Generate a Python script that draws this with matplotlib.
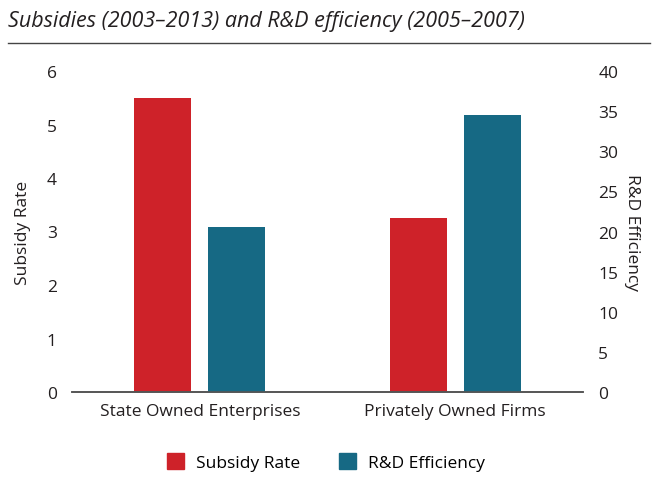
import numpy as np
import matplotlib.pyplot as plt
from matplotlib.patches import Patch
from matplotlib.lines import Line2D

plt.rcParams['font.family'] = ['Open Sans', 'DejaVu Sans']

categories = ["State Owned Enterprises", "Privately Owned Firms"]
subsidy_rate = [5.5, 3.25]
rd_efficiency = [20.6, 34.5]

red = "#CE2229"
teal = "#166984"
text_col = "#231F20"

fig = plt.figure(figsize=(6.6, 4.85), dpi=100)
ax = fig.add_axes([72 / 660, 1 - 393 / 485, 511 / 660, 321 / 485])
ax2 = ax.twinx()

x = np.arange(len(categories))
w = 0.223
off = 0.144
ax.bar(x - off, subsidy_rate, w, color=red, zorder=2)
ax2.bar(x + off, rd_efficiency, w, color=teal, zorder=2)

ax.set_xlim(-0.5, 1.5)
ax.set_ylim(0, 6)
ax2.set_ylim(0, 40)
ax.set_yticks(range(0, 7))
ax2.set_yticks(range(0, 41, 5))
ax.set_xticks(x)
ax.set_xticklabels(categories, fontsize=11.8, color=text_col)

for a in (ax, ax2):
    for s in ("top", "left", "right"):
        a.spines[s].set_visible(False)
    a.spines["bottom"].set_color("#555555")
    a.spines["bottom"].set_linewidth(1.2)
    a.tick_params(length=0, labelsize=12.5, colors=text_col)
ax.tick_params(axis="y", pad=11)
ax2.tick_params(axis="y", pad=11)
ax.tick_params(axis="x", pad=8)

ax.set_ylabel("Subsidy Rate", fontsize=12.5, color=text_col, labelpad=11)
ax2.set_ylabel("R&D Efficiency", fontsize=12.5, color=text_col,
               rotation=-90, labelpad=16)

fig.text(8 / 660, 1 - 22 / 485, "Subsidies (2003\u20132013) and R&D efficiency (2005\u20132007)",
         fontsize=15.5, style="italic", color=text_col, va="center", ha="left")
fig.add_artist(Line2D([8 / 660, 650 / 660], [1 - 44 / 485, 1 - 44 / 485],
                      color="#444444", linewidth=1.0))

handles = [Patch(color=red, label="Subsidy Rate"),
           Patch(color=teal, label="R&D Efficiency")]
fig.legend(handles=handles, loc="center", bbox_to_anchor=(326 / 660, 1 - 463 / 485),
           ncol=2, frameon=False, fontsize=12.5, handlelength=1.0, handleheight=1.0,
           columnspacing=2.2, handletextpad=0.7)

fig.savefig("out.png", dpi=100)
